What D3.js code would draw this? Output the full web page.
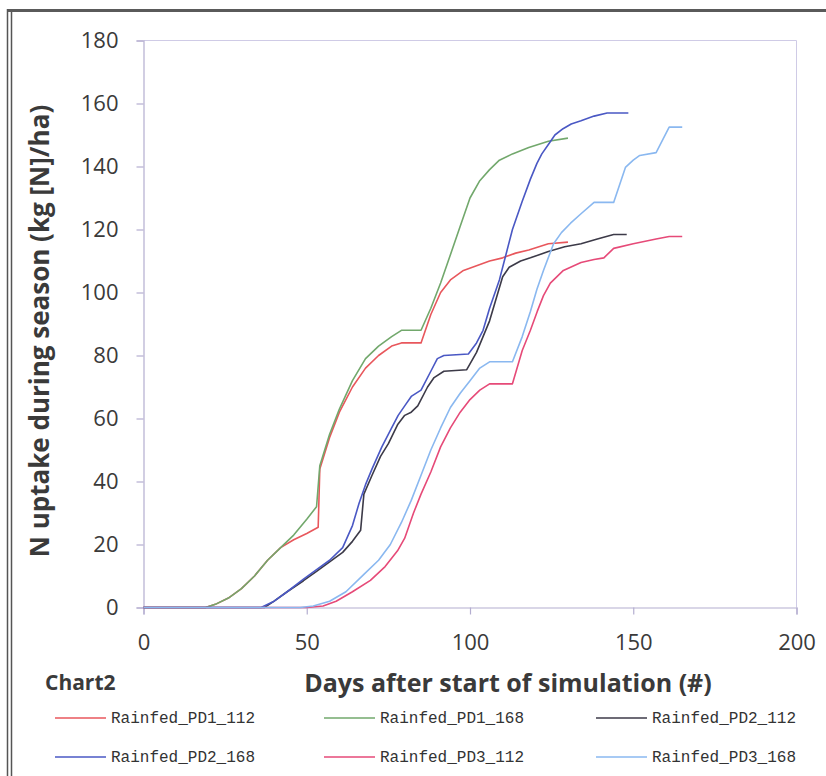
<!DOCTYPE html>
<html><head><meta charset="utf-8">
<script src="https://cdn.jsdelivr.net/npm/d3@7/dist/d3.min.js"></script>
<style>body{margin:0;background:#fff}svg{display:block}</style>
</head><body>
<svg id="c" width="826" height="776"></svg>
<script>
const seriesNames = ["Rainfed_PD1_112","Rainfed_PD1_168","Rainfed_PD2_112","Rainfed_PD2_168","Rainfed_PD3_112","Rainfed_PD3_168"];
const seriesColors = ["#e8575c","#72a86c","#3c3a48","#4a58c4","#e64a78","#8ab8f0"];
const xTicks = [0,50,100,150,200];
const yTicks = [0,20,40,60,80,100,120,140,160,180];

const pd1_112_days = [0,19,22,26,30,34,38,42,46,50,53.5,54,57,60,64,68,72,76,79,85,88,91,94,98,102,106,110,114,118,124,130];
const pd1_112_vals = [0,0,1,3,6,10,15,19,21.5,23.5,25.5,44,54,62,70,76,80,83,84,84,93,100,104,107,108.5,110,111,112.5,113.5,115.5,116];
const pd1_168_days = [0,19,22,26,30,34,38,42,46,50,53,54,57,60,64,68,72,76,79,85,88,91,94,97,100,103,106,109,113,118,124,130];
const pd1_168_vals = [0,0,1,3,6,10,15,19,23,28,32,45,55,63,72,79,83,86,88,88,95,103,112,121,130,135.5,139,142,144,146,148,149];
const pd2_112_days = [0,37,40,44,49,53,57,61,64,66.5,67.5,70,72.6,75,77.8,80,82,84,87,89,92,99,102,104,106,108,110,112,115.5,118.5,124,129,134,139,144,148];
const pd2_112_vals = [0,0,2,5,8.5,11.5,14.5,17.5,21,24.5,36,42,48,52,58,61,62,64,70,73,75,75.5,81,86,91,98,105,108,110,111,113,114.5,115.5,117,118.4,118.4];
const pd2_168_days = [0,36,40,44,49,53,57,61,64,66,68,70,73,76,78,80,82,85,88,90,92,99.5,102,104,106,109,111,113,116,118.5,120.5,122,124,126,128.5,131,134,138,142,148.5];
const pd2_168_vals = [0,0,2,5,9,12,15,19,26,33,39,44,51,57,61,64,67,69,75,79,80,80.5,84,88,95,104,112,120,129,136,141,144,147,150,152,153.5,154.5,156,157,157];
const pd3_112_days = [0,50,55,59,64,69.5,74,77.8,80,82.7,85,88,91,94,97,100,103,106,113,116,118.5,120.6,122.5,124.6,128.6,134,138,141,144,150,157,161,165];
const pd3_112_vals = [0,0,0.5,2,5,8.6,13,18,22,30,36,43,51,57,62,66,69,71,71,81.6,88,94,99,103,107,109.5,110.5,111,114,115.5,117,117.8,117.8];
const pd3_168_days = [0,48,52,57,62,67.5,72,75.6,79,82,85,88,91,94,97,100,103,106,113,116,118.5,120.5,122.5,125.6,128,130.8,134,138,144,147.6,150,152,157,161,165];
const pd3_168_vals = [0,0,0.5,2,5,10.5,15,20,27,34,42,50,57,63.5,68,72,76,78,78,86,94,101,107,115.5,119,122,125,128.6,128.6,139.7,142,143.5,144.4,152.5,152.5];

const seriesDays = [pd1_112_days,pd1_168_days,pd2_112_days,pd2_168_days,pd3_112_days,pd3_168_days];
const seriesVals = [pd1_112_vals,pd1_168_vals,pd2_112_vals,pd2_168_vals,pd3_112_vals,pd3_168_vals];

const svg = d3.select("#c");
const L = 143.5, R = 796.5, T = 40.5, B = 607.5;
const x = d3.scaleLinear().domain([0,200]).range([L,R]);
const y = d3.scaleLinear().domain([0,180]).range([B,T]);
const axisCol = "#b4aed0";
const textCol = "#3a3a3a";

// scanned page frame
svg.append("line").attr("x1",7).attr("x2",826).attr("y1",10.5).attr("y2",10.5).attr("stroke","#5a5a5a").attr("stroke-width",3);
svg.append("line").attr("x1",7.5).attr("x2",7.5).attr("y1",9).attr("y2",776).attr("stroke","#555").attr("stroke-width",1.5);
svg.append("line").attr("x1",11.5).attr("x2",11.5).attr("y1",12).attr("y2",776).attr("stroke","#555").attr("stroke-width",1.5);

// plot border top/right
svg.append("path").attr("d",`M${L},${T}H${R}V${B}`).attr("fill","none").attr("stroke","#cfcbe6").attr("stroke-width",1);

// axes
const yAxis = svg.append("g").attr("transform",`translate(${L},0)`)
  .call(d3.axisLeft(y).tickValues(yTicks).tickSize(7).tickPadding(18).tickFormat(d3.format("d")));
const xAxis = svg.append("g").attr("transform",`translate(0,${B})`)
  .call(d3.axisBottom(x).tickValues(xTicks).tickSize(7).tickPadding(20).tickFormat(d3.format("d")));
[yAxis,xAxis].forEach(g=>{
  g.selectAll("path,line").attr("stroke",axisCol).attr("stroke-width",1.2);
  g.selectAll("text").attr("fill",textCol).style("font-family","'Open Sans', sans-serif").style("font-size","22px");
});

// series
const line = d3.line().x(d=>x(d[0])).y(d=>y(d[1]));
seriesNames.forEach((n,i)=>{
  const pts = seriesDays[i].map((d,j)=>[d,seriesVals[i][j]]);
  svg.append("path").datum(pts).attr("d",line).attr("fill","none")
    .attr("stroke",seriesColors[i]).attr("stroke-width",1.6).attr("stroke-linejoin","round");
});

// titles
svg.append("text").attr("transform","translate(49,331) rotate(-90)").attr("text-anchor","middle")
  .attr("fill",textCol).style("font-family","'Open Sans', sans-serif").style("font-weight","bold").style("font-size","26px")
  .text("N uptake during season (kg [N]/ha)");
svg.append("text").attr("x",508).attr("y",692).attr("text-anchor","middle")
  .attr("fill",textCol).style("font-family","'Open Sans', sans-serif").style("font-weight","bold").style("font-size","25px")
  .text("Days after start of simulation (#)");
svg.append("text").attr("x",45).attr("y",690)
  .attr("fill",textCol).style("font-family","'Open Sans', sans-serif").style("font-weight","bold").style("font-size","21px")
  .text("Chart2");

// legend
const colX = [55,324,596];
const rowY = [718,757];
seriesNames.forEach((n,i)=>{
  const cx = colX[i%3], cy = rowY[Math.floor(i/3)];
  svg.append("line").attr("x1",cx).attr("x2",cx+51).attr("y1",cy).attr("y2",cy).attr("stroke",seriesColors[i]).attr("stroke-width",1.6);
  svg.append("text").attr("x",cx+56).attr("y",cy+5).attr("fill","#333")
    .style("font-family","'Liberation Mono', monospace").style("font-size","16px").text(n);
});
</script>
</body></html>
